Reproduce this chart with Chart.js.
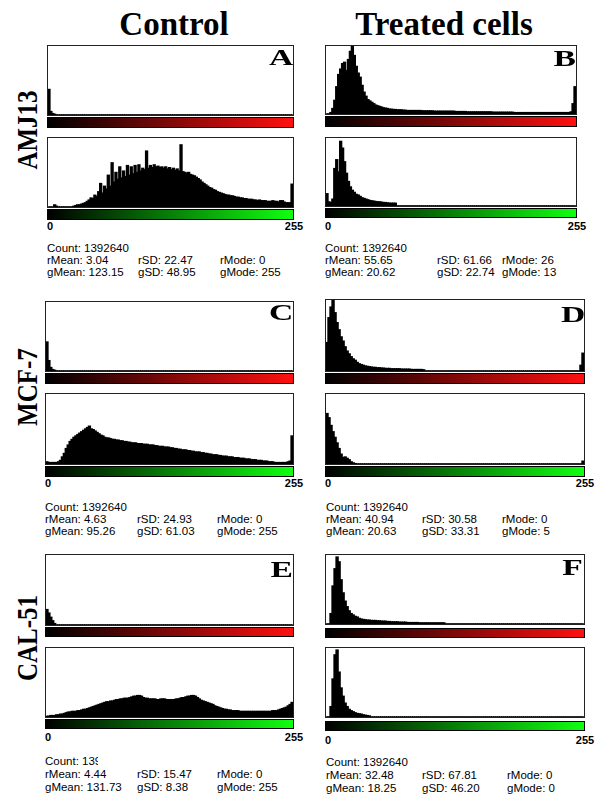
<!DOCTYPE html>
<html><head><meta charset="utf-8">
<script src="https://cdn.jsdelivr.net/npm/chart.js@4"></script>
<style>
html,body{margin:0;padding:0;background:#fff;}
body{width:596px;height:795px;position:relative;overflow:hidden;}
.box{position:absolute;box-sizing:border-box;border:1px solid #222;background:#fff;}
.box canvas{position:absolute;left:0;top:0;display:block;}
.grad{position:absolute;box-sizing:border-box;border:1px solid #000;}
.serif{position:absolute;font-family:"Liberation Serif","Times New Roman",serif;font-weight:bold;line-height:1;white-space:nowrap;color:#000;}
.stat{position:absolute;font-family:"Liberation Sans",Arial,sans-serif;font-size:11.5px;line-height:12px;white-space:nowrap;color:#000;}
.tick{position:absolute;font-family:"Liberation Sans",Arial,sans-serif;font-size:11px;font-weight:bold;line-height:12px;white-space:nowrap;color:#000;}
</style></head>
<body>
<script>
// ---- Data (histogram heights, % of panel height; 128 bins of 2 intensity levels, 0..255) ----
const aRed = [
37,5,2,1,0,0,0,0,0,0,0,0,0,0,0,0,
0,0,0,0,0,0,0,0,0,0,0,0,0,0,0,0,
0,0,0,0,0,0,0,0,0,0,0,0,0,0,0,0,
0,0,0,0,0,0,0,0,0,0,0,0,0,0,0,0,
0,0,0,0,0,0,0,0,0,0,0,0,0,0,0,0,
0,0,0,0,0,0,0,0,0,0,0,0,0,0,0,0,
0,0,0,0,0,0,0,0,0,0,0,0,0,0,0,0,
0,0,0,0,0,0,0,0,0,0,0,0,0,0,0,0];
const aGreen = [
0,0,0,3,1,0,0,0,0,0,0,0,0,1,2,3,
3,4,5,6,8,10,13,12,17,15,22,34,20,30,26,46,
30,64,36,50,40,58,42,52,44,60,46,58,48,60,50,61,
52,56,54,81,56,60,57,61,58,59,57,58,56,58,55,57,
54,56,53,55,52,90,51,50,49,50,47,46,45,43,41,39,
36,34,32,30,28,27,25,24,22,21,20,19,18,17,17,16,
16,15,14,14,13,13,12,12,11,11,11,10,10,9,10,9,
9,9,8,8,8,9,8,8,7,9,9,7,6,6,6,33];
const bRed = [
0,0,2,8,20,40,58,66,74,76,64,80,92,100,86,70,
60,54,42,32,26,21,19,17,15,13,12,11,10,9,8.5,8,
7,7,6.5,6.5,6,6,6,5.5,5.5,5,5,5,5,5,5,5,
5,4.5,4.5,4.5,4.5,4.5,4.5,4,4,4,4,4,4,4,4,4,
4,4,3.5,3.5,3.5,3.5,3.5,3.5,3,3,3,3,3,3,3,3,
3,3,3,3,3,2.5,2.5,2.5,2.5,2.5,2.5,2.5,2.5,2.5,2.5,2.5,
2,2,2,2,2,2,2,2,2,2,2,2,2,2,2,2,
2,2,2,2,2,2,2,2,2,2,2,2,2,3,15,40];
const bGreen = [
18,6,5,10,55,68,50,95,85,65,48,36,28,23,20,17,
16,14,12,11,10,9,8,7.5,7,6.5,6,6,5.5,5,5,4.5,
4,4,4,4,0,0,0,0,0,0,0,0,0,0,0,0,
0,0,0,0,0,0,0,0,0,0,0,0,0,0,0,0,
0,0,0,0,0,0,0,0,0,0,0,0,0,0,0,0,
0,0,0,0,0,0,0,0,0,0,0,0,0,0,0,0,
0,0,0,0,0,0,0,0,0,0,0,0,0,0,0,0,
0,0,0,0,0,0,0,0,0,0,0,0,0,0,0,0];
const cRed = [
42,15,5,2,1,0,0,0,0,0,0,0,0,0,0,0,
0,0,0,0,0,0,0,0,0,0,0,0,0,0,0,0,
0,0,0,0,0,0,0,0,0,0,0,0,0,0,0,0,
0,0,0,0,0,0,0,0,0,0,0,0,0,0,0,0,
0,0,0,0,0,0,0,0,0,0,0,0,0,0,0,0,
0,0,0,0,0,0,0,0,0,0,0,0,0,0,0,0,
0,0,0,0,0,0,0,0,0,0,0,0,0,0,0,0,
0,0,0,0,0,0,0,0,0,0,0,0,0,0,0,0];
const cGreen = [
3,2,2,2,2,2,3,5,10,15,22,27,32,35,38,40,
42,44,46,48,50,52,54,50,49,47,45,43,41,40,38,37,
37,36,35,35,34,34,33,33,32,32,31,31,30,30,30,29,
29,29,28,28,28,27,27,27,26,26,25,25,25,24,24,24,
23,23,22,22,21,21,20,20,20,19,19,18,18,17,17,17,
16,16,15,15,14,14,13,13,13,12,12,11,11,11,10,10,
10,9,9,9,8,8,8,7,7,7,6,6,6,5,5,5,
4,4,4,3,3,3,2,2,2,2,2,2,2,3,4,40];
const dRed = [
40,75,90,100,82,68,58,48,42,34,28,24,20,17,15,12,
10,9,8,7,6.5,6,5.5,5,5,4.5,4.5,4,4,3.5,3.5,3.5,
3,3,3,3,3,2.5,2.5,2.5,2.5,2.5,2,2,2,2,2,2,
1.5,0,0,0,0,0,0,0,0,0,0,0,0,0,0,0,
0,0,0,0,0,0,0,0,0,0,0,0,0,0,0,0,
0,0,0,0,0,0,0,0,0,0,0,0,0,0,0,0,
0,0,0,0,0,0,0,0,0,0,0,0,0,0,0,0,
0,0,0,0,0,0,0,0,0,0,0,0,0,0,8,25];
const dGreen = [
72,66,55,46,38,30,22,14,9,10,8,6,3,1.5,0.5,0,
0,0,0,0,0,0,0,0,0,0,0,0,0,0,0,0,
0,0,0,0,0,0,0,0,0,0,0,0,0,0,0,0,
0,0,0,0,0,0,0,0,0,0,0,0,0,0,0,0,
0,0,0,0,0,0,0,0,0,0,0,0,0,0,0,0,
0,0,0,0,0,0,0,0,0,0,0,0,0,0,0,0,
0,0,0,0,0,0,0,0,0,0,0,0,0,0,0,0,
0,0,0,0,0,0,0,0,0,0,0,0,0,0,0,4];
const eRed = [
22,17,11,6,2,0,0,0,0,0,0,0,0,0,0,0,
0,0,0,0,0,0,0,0,0,0,0,0,0,0,0,0,
0,0,0,0,0,0,0,0,0,0,0,0,0,0,0,0,
0,0,0,0,0,0,0,0,0,0,0,0,0,0,0,0,
0,0,0,0,0,0,0,0,0,0,0,0,0,0,0,0,
0,0,0,0,0,0,0,0,0,0,0,0,0,0,0,0,
0,0,0,0,0,0,0,0,0,0,0,0,0,0,0,0,
0,0,0,0,0,0,0,0,0,0,0,0,0,0,0,0];
const eGreen = [
1,1,2,2,2,3,3,4,4,5,6,7,7,8,8,8,
9,9,10,11,11,12,13,14,15,16,17,18,19,20,21,22,
22,23,23,24,25,25,26,26,27,27,27,28,29,30,30,31,
31,30,28,27,27,26,26,26,26,25,25,26,26,26,25,25,
25,25,25,26,26,27,28,28,29,30,30,31,31,30,28,26,
24,23,22,21,20,19,18,16,15,14,13,12,11,11,10,10,
9,9,9,9,8,8,8,8,8,8,8,8,8,8,8,8,
8,8,8,8,8,9,9,9,10,11,12,13,14,16,18,21];
const fRed = [
0,0,15,55,80,97,90,64,45,33,25,19,15,13,11,10,
8,7,6.5,6,5.5,5.5,5,5,5,4.5,4.5,4,4,4,3.5,3.5,
3,3,3,3,2.5,2.5,2.5,2.5,2,2,2,2,2,2,1.5,1.5,
1.5,1.5,1.5,1.5,1.5,1.5,1.5,1.5,1.5,1.5,1.5,0,0,0,0,0,
0,0,0,0,0,0,0,0,0,0,0,0,0,0,0,0,
0,0,0,0,0,0,0,0,0,0,0,0,0,0,0,0,
0,0,0,0,0,0,0,0,0,0,0,0,0,0,0,0,
0,0,0,0,0,0,0,0,0,0,0,0,0,0,0,0];
const fGreen = [
0,0,15,55,90,97,65,42,30,20,15,11,9,7.5,6,5,
4.5,4,3,2.5,2,1.5,0,0,0,0,0,0,0,0,0,0,
0,0,0,0,0,0,0,0,0,0,0,0,0,0,0,0,
0,0,0,0,0,0,0,0,0,0,0,0,0,0,0,0,
0,0,0,0,0,0,0,0,0,0,0,0,0,0,0,0,
0,0,0,0,0,0,0,0,0,0,0,0,0,0,0,0,
0,0,0,0,0,0,0,0,0,0,0,0,0,0,0,0,
0,0,0,0,0,0,0,0,0,0,0,0,0,0,0,0];

const binLabels = aRed.map((_, i) => i * 2);   // intensity bin starts
const axisTicks = ['0', '255'];
const columnTitles = ['Control', 'Treated cells'];
const rowLabels = ['AMJ13', 'MCF-7', 'CAL-51'];
const panelLetters = ['A', 'B', 'C', 'D', 'E', 'F'];

// statistics text
const countVals = ['1392640', '1392640', '1392640', '1392640', '1392640', '1392640'];
const rMeanVals = ['3.04', '55.65', '4.63', '40.94', '4.44', '32.48'];
const rSDVals   = ['22.47', '61.66', '24.93', '30.58', '15.47', '67.81'];
const rModeVals = ['0', '26', '0', '0', '0', '0'];
const gMeanVals = ['123.15', '20.62', '95.26', '20.63', '131.73', '18.25'];
const gSDVals   = ['48.95', '22.74', '61.03', '33.31', '8.38', '46.20'];
const gModeVals = ['255', '13', '255', '5', '255', '0'];

const redSeries = [aRed, bRed, cRed, dRed, eRed, fRed];
const greenSeries = [aGreen, bGreen, cGreen, dGreen, eGreen, fGreen];

// ---- Layout ----
const layout = [
  {x0:47, x1:294, red:[45,116], rbar:[117,128], green:[137,208], gbar:[209,220], tickY:226, cols:[47,138,220], rows:[248,260,272], letter:[293,45], countClip:null},
  {x0:325, x1:577, red:[45,115], rbar:[116,127], green:[137,207], gbar:[208,218], tickY:226, cols:[325,437,502], rows:[248,260,272], letter:[576,46], countClip:null},
  {x0:45, x1:294, red:[301,372], rbar:[373,384], green:[393,465], gbar:[466,477], tickY:483, cols:[45,137,217], rows:[507,519,531], letter:[293,300], countClip:null},
  {x0:325, x1:585, red:[299,372], rbar:[373,384], green:[393,465], gbar:[466,477], tickY:483, cols:[326,422,502], rows:[507,519,531], letter:[585,302], countClip:null},
  {x0:45, x1:294, red:[554,626], rbar:[627,637], green:[647,718], gbar:[719,729], tickY:737, cols:[45,137,217], rows:[761,774,787], letter:[293,557], countClip:53},
  {x0:325, x1:585, red:[554,625], rbar:[628,638], green:[647,718], gbar:[721,731], tickY:740, cols:[326,422,507], rows:[762,775,788], letter:[583,555], countClip:null}
];

function el(tag, cls, css, text) {
  const e = document.createElement(tag);
  if (cls) e.className = cls;
  Object.assign(e.style, css);
  if (text !== undefined) e.textContent = text;
  document.body.appendChild(e);
  return e;
}

function histogram(x0, x1, y0, y1, data) {
  const box = el('div', 'box', {left:x0+'px', top:y0+'px', width:(x1-x0)+'px', height:(y1-y0)+'px'});
  const cv = document.createElement('canvas');
  const w = x1 - x0 - 2, h = y1 - y0 - 2;
  cv.width = w; cv.height = h;
  cv.style.width = w + 'px'; cv.style.height = h + 'px';
  box.appendChild(cv);
  new Chart(cv, {
    type: 'bar',
    data: { labels: binLabels, datasets: [{ data: data, backgroundColor: '#000', borderWidth: 0,
      barPercentage: 1, categoryPercentage: 1, inflateAmount: 0.7 }] },
    options: {
      responsive: false, animation: false, events: [],
      layout: { padding: 0 },
      plugins: { legend: { display: false }, tooltip: { enabled: false } },
      scales: { x: { display: false }, y: { display: false, min: 0, max: 100 } }
    }
  });
}

function gradBar(x0, x1, y0, y1, color) {
  el('div', 'grad', {left:x0+'px', top:y0+'px', width:(x1-x0)+'px', height:(y1-y0)+'px',
    background:'linear-gradient(to right,#000 0%,' + color + ' 100%)'});
}

layout.forEach((p, i) => {
  histogram(p.x0, p.x1, p.red[0], p.red[1], redSeries[i]);
  gradBar(p.x0, p.x1, p.rbar[0], p.rbar[1], '#ff1010');
  histogram(p.x0, p.x1, p.green[0], p.green[1], greenSeries[i]);
  gradBar(p.x0, p.x1, p.gbar[0], p.gbar[1], '#10ff10');
  // axis ticks
  el('div', 'tick', {left:p.x0+'px', top:(p.tickY-6)+'px'}, axisTicks[0]);
  el('div', 'tick', {left:p.x1+'px', top:(p.tickY-6)+'px', transform:'translateX(-50%)'}, axisTicks[1]);
  // panel letter
  el('div', 'serif', {right:(596-p.letter[0])+'px', top:p.letter[1]+'px', fontSize:'24px',
    transformOrigin:'right top', transform:'scaleX(1.4)', zIndex:5}, panelLetters[i]);
  // stats
  const cnt = el('div', 'stat', {left:p.cols[0]+'px', top:(p.rows[0]-6)+'px'}, 'Count: ' + countVals[i]);
  if (p.countClip) { cnt.style.width = p.countClip + 'px'; cnt.style.overflow = 'hidden'; }
  el('div', 'stat', {left:p.cols[0]+'px', top:(p.rows[1]-6)+'px'}, 'rMean: ' + rMeanVals[i]);
  el('div', 'stat', {left:p.cols[1]+'px', top:(p.rows[1]-6)+'px'}, 'rSD: ' + rSDVals[i]);
  el('div', 'stat', {left:p.cols[2]+'px', top:(p.rows[1]-6)+'px'}, 'rMode: ' + rModeVals[i]);
  el('div', 'stat', {left:p.cols[0]+'px', top:(p.rows[2]-6)+'px'}, 'gMean: ' + gMeanVals[i]);
  el('div', 'stat', {left:p.cols[1]+'px', top:(p.rows[2]-6)+'px'}, 'gSD: ' + gSDVals[i]);
  el('div', 'stat', {left:p.cols[2]+'px', top:(p.rows[2]-6)+'px'}, 'gMode: ' + gModeVals[i]);
});

// column titles
el('div', 'serif', {left:'174px', top:'8px', fontSize:'33px', transform:'translateX(-50%)'}, columnTitles[0]);
el('div', 'serif', {left:'444px', top:'8px', fontSize:'33px', transform:'translateX(-50%)'}, columnTitles[1]);
// row labels
[130, 387, 638].forEach((cy, i) => {
  el('div', 'serif', {left:'27px', top:cy+'px', fontSize:'25px',
    transform:'translate(-50%,-50%) rotate(-90deg) scaleY(1.2)'}, rowLabels[i]);
});
</script>
</body></html>
